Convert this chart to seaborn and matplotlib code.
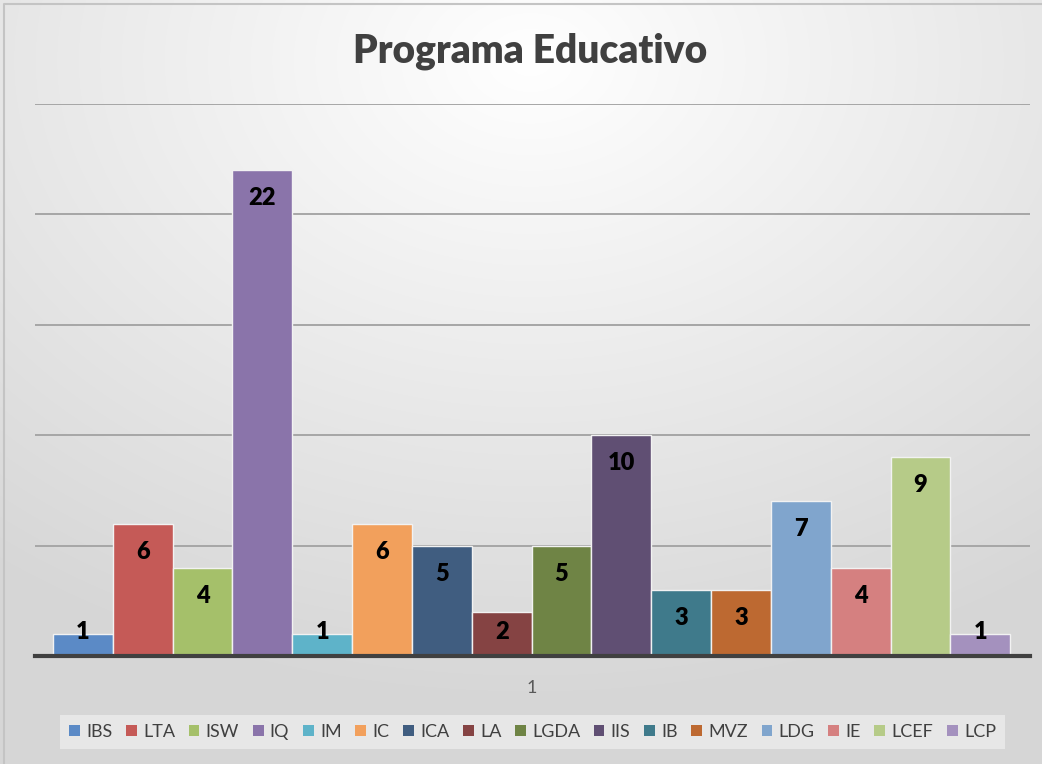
import numpy as np
import pandas as pd
import matplotlib
matplotlib.use("Agg")
import matplotlib.pyplot as plt
import seaborn as sns
from matplotlib.patches import Patch

programas = ["IBS", "LTA", "ISW", "IQ", "IM", "IC", "ICA", "LA",
             "LGDA", "IIS", "IB", "MVZ", "LDG", "IE", "LCEF", "LCP"]
valores = [1, 6, 4, 22, 1, 6, 5, 2, 5, 10, 3, 3, 7, 4, 9, 1]
colores = ["#5b8ac6", "#c55a57", "#a5c06a", "#8a74aa", "#5eb3c9", "#f2a05c",
           "#405d80", "#854343", "#6f8445", "#604f73", "#3f7a8b", "#bd6931",
           "#80a5cd", "#d58080", "#b6cb88", "#a491be"]
categoria = ["1"]

df = pd.DataFrame({"programa": programas, "valor": valores})

sns.set_style("white")
plt.rcParams["font.family"] = ["Lato", "DejaVu Sans"]

W, H = 1042, 764
fig = plt.figure(figsize=(W / 100, H / 100), dpi=100)

# fondo con degradado radial
bg = fig.add_axes([0, 0, 1, 1], zorder=-10)
yy, xx = np.mgrid[0:H, 0:W]
r = np.sqrt(((xx - 530) / W) ** 2 + ((yy - 60) / H) ** 2)
shade = np.clip(1.0 - 0.19 * r, 0.84, 1.0)
bg.imshow(np.dstack([shade] * 3), aspect="auto", extent=[0, 1, 0, 1])
bg.plot([0.004, 0.004, 1], [0, 0.995, 0.995], color="#c4c4c4", lw=1.5)
bg.set_xlim(0, 1)
bg.set_ylim(0, 1)
bg.set_axis_off()

ax = fig.add_axes([35 / W, 108 / H, 995 / W, 552 / H])
ax.patch.set_alpha(0)
sns.barplot(data=df, x="programa", y="valor", hue="programa",
            palette=colores, saturation=1, dodge=False, width=1.0, legend=False,
            edgecolor="#f2f2f2", linewidth=1.0, ax=ax, zorder=3)

ax.set_ylim(0, 25)
ax.set_xlim(-0.8, 15.83)
ax.set_yticks([0, 5, 10, 15, 20, 25])
ax.yaxis.grid(True, color="#a6a6a6", linewidth=1.4, zorder=0)
ax.set_axisbelow(True)
ax.tick_params(axis="y", left=False, labelleft=False)
for s in ["left", "right", "top"]:
    ax.spines[s].set_visible(False)
ax.spines["bottom"].set_color("#404040")
ax.spines["bottom"].set_linewidth(3)
ax.spines["bottom"].set_zorder(4)
ax.set_xticks([7.5], categoria)
ax.tick_params(axis="x", bottom=False, labelsize=13, labelcolor="#595959", pad=14)
ax.set_xlabel("")
ax.set_ylabel("")

# etiquetas de datos dentro del extremo
for i, v in enumerate(valores):
    ax.text(i, max(v - 1.27, 1.09), str(v), ha="center", va="center",
            fontsize=17, fontweight="heavy", color="black", zorder=5)

fig.text(0.509, 0.933, "Programa Educativo", ha="center", va="center",
         fontsize=28, fontweight="heavy", color="#404040")

handles = [Patch(facecolor=c, edgecolor="none") for c in colores]
leg = fig.legend(handles, programas, loc="center", bbox_to_anchor=(0.511, 0.042),
                 ncol=16, frameon=True, fontsize=13, handlelength=0.6,
                 handleheight=0.6, handletextpad=0.35, columnspacing=0.75,
                 borderpad=0.5, fancybox=False)
leg.get_frame().set_facecolor("#ececec")
leg.get_frame().set_edgecolor("none")
for t in leg.get_texts():
    t.set_color("#404040")

fig.savefig("out.png", dpi=100)
